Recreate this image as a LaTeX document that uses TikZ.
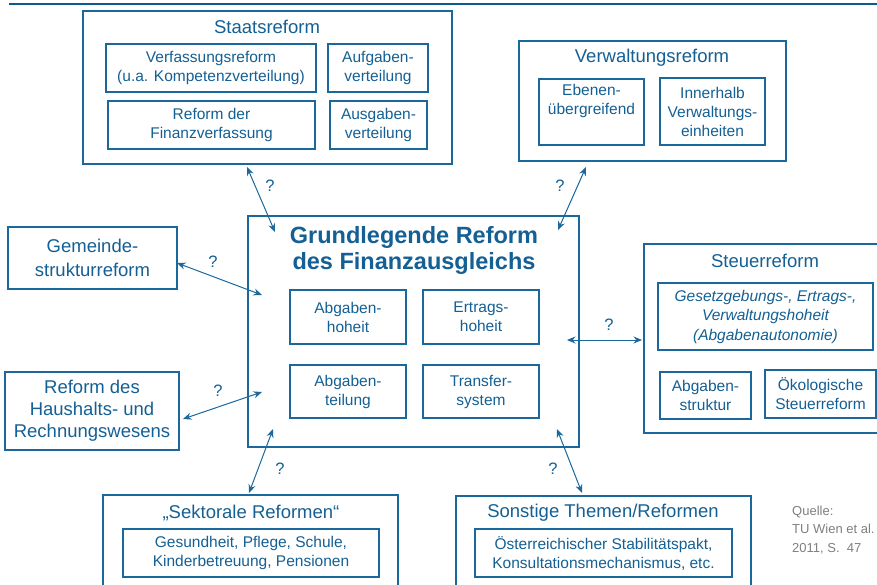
\documentclass[tikz,border=0pt]{standalone}
\usepackage{fontspec}
\setmainfont{Liberation Sans}
\usetikzlibrary{arrows.meta}
\definecolor{fablue}{RGB}{20,96,148}
\definecolor{linecol}{RGB}{26,104,156}
\definecolor{topline}{RGB}{8,92,142}
\definecolor{srcgray}{RGB}{128,128,128}
\tikzset{
  outerbox/.style={draw=linecol, line width=1.4pt, inner sep=0pt, fill=none},
  innerbox/.style={draw=linecol, line width=1.3pt, inner sep=0pt, align=center, text=fablue,
    font=\fontsize{15.5}{19}\selectfont},
  titletext/.style={text=fablue, align=center, inner sep=0pt, font=\fontsize{18.5}{22}\selectfont},
  qmark/.style={text=fablue, inner sep=0pt, font=\fontsize{16.5}{19}\selectfont},
  link/.style={draw=linecol, line width=1pt, {Stealth[length=8.5pt,width=7pt]}-{Stealth[length=8.5pt,width=7pt]}}
}
\begin{document}
\begin{tikzpicture}[x=1pt,y=-1pt]
\useasboundingbox (0,0) rectangle (877,585);
\fill[white] (0,0) rectangle (877,585);
% top rule
\coordinate (tl) at (9,4);
\coordinate (tr) at (877,4);
\draw[topline, line width=2.6pt] (tl) -- (tr);

% Staatsreform
\node[outerbox, minimum width=369pt, minimum height=153pt] (staats) at (267.5,87.5) {};
\node[titletext] (staatsT) at (267,27) {Staatsreform};
\node[innerbox, minimum width=210pt, minimum height=48pt] (verf) at (211,68) {Verfassungsreform\\(u.a. Kompetenzverteilung)};
\node[innerbox, minimum width=100pt, minimum height=48pt] (aufg) at (378,68) {Aufgaben-\\verteilung};
\node[innerbox, minimum width=207pt, minimum height=48pt] (reffin) at (211.5,125) {Reform der\\Finanzverfassung};
\node[innerbox, minimum width=97pt, minimum height=48pt] (ausg) at (378.5,125) {Ausgaben-\\verteilung};

% Verwaltungsreform
\node[outerbox, minimum width=267pt, minimum height=120pt] (verw) at (652.5,101) {};
\node[titletext] (verwT) at (652,58) {Verwaltungsreform};
\node[innerbox, minimum width=105pt, minimum height=66pt] (ebenen) at (591.5,112) {Ebenen-\\übergreifend\\\strut};
\node[innerbox, minimum width=105pt, minimum height=67pt] (innerh) at (712.5,111.5) {Innerhalb\\Verwaltungs-\\einheiten};

% Grundlegende Reform
\node[outerbox, minimum width=331pt, minimum height=231pt] (grund) at (413.5,331.5) {};
\node[text=fablue, align=center, inner sep=0pt, font=\fontsize{23.5}{26}\selectfont\bfseries] (grundT) at (414,250) {Grundlegende Reform\\des Finanzausgleichs};
\node[innerbox, minimum width=116pt, minimum height=54pt] (abgh) at (348,317) {Abgaben-\\hoheit};
\node[innerbox, minimum width=116pt, minimum height=54pt] (ertr) at (481,317) {Ertrags-\\hoheit};
\node[innerbox, minimum width=116pt, minimum height=53pt] (abgt) at (348,391.5) {Abgaben-\\teilung};
\node[innerbox, minimum width=116pt, minimum height=53pt] (trans) at (481,391.5) {Transfer-\\system};

% left boxes
\node[outerbox, minimum width=169pt, minimum height=62pt, align=center, text=fablue, font=\fontsize{18.5}{24}\selectfont] (gem) at (92.5,258) {Gemeinde-\\strukturreform};
\node[outerbox, minimum width=174pt, minimum height=78pt, align=center, text=fablue, font=\fontsize{18.5}{22}\selectfont] (haus) at (92,411) {Reform des\\Haushalts- und\\Rechnungswesens};

% Steuerreform
\node[outerbox, minimum width=246pt, minimum height=189pt] (steuer) at (767,338.5) {};
\node[titletext] (steuerT) at (765,261) {Steuerreform};
\node[innerbox, minimum width=215pt, minimum height=67pt, font=\fontsize{15.5}{19.5}\selectfont\itshape] (gesetz) at (765.5,316.5) {Gesetzgebungs-, Ertrags-,\\Verwaltungshoheit\\(Abgabenautonomie)};
\node[innerbox, minimum width=91pt, minimum height=47pt] (abgs) at (705.5,395.5) {Abgaben-\\struktur};
\node[innerbox, minimum width=111pt, minimum height=48pt] (oeko) at (820.5,394) {Ökologische\\Steuerreform};

% bottom boxes
\node[outerbox, minimum width=295pt, minimum height=105pt] (sekt) at (250.5,547.5) {};
\node[titletext] (sektT) at (251,513) {„Sektorale Reformen“};
\node[innerbox, minimum width=256pt, minimum height=48pt] (sektI) at (251,553) {Gesundheit, Pflege, Schule,\\Kinderbetreuung, Pensionen};
\node[outerbox, minimum width=295pt, minimum height=104pt] (sonst) at (603.5,548) {};
\node[titletext] (sonstT) at (603,513) {Sonstige Themen/Reformen};
\node[innerbox, minimum width=257pt, minimum height=48pt] (sonstI) at (603.5,553) {Österreichischer Stabilitätspakt,\\Konsultationsmechanismus, etc.};

% source
\node[anchor=west, align=left, text=srcgray, inner sep=0pt, font=\fontsize{13}{18.5}\selectfont] (quelle) at (792,530) {Quelle:\\TU Wien et al.\\2011, S.\ \ 47};

% connector end points
\coordinate (a1s) at (247,167); \coordinate (a1g) at (275,232);
\coordinate (a2s) at (586,167); \coordinate (a2g) at (558,230);
\coordinate (a3s) at (177,263); \coordinate (a3g) at (262,295);
\coordinate (a4s) at (183,419); \coordinate (a4g) at (262,392);
\coordinate (a5g) at (567,340); \coordinate (a5s) at (642,340);
\coordinate (a6g) at (273,429); \coordinate (a6s) at (249,493);
\coordinate (a7g) at (557,429); \coordinate (a7s) at (582,493);

\draw[link] (a1s) -- (a1g);
\draw[link] (a2s) -- (a2g);
\draw[link] (a3s) -- (a3g);
\draw[link] (a4s) -- (a4g);
\draw[link] (a5g) -- (a5s);
\draw[link] (a6g) -- (a6s);
\draw[link] (a7g) -- (a7s);

\node[qmark] (q1) at (270,186) {?};
\node[qmark] (q2) at (560,186) {?};
\node[qmark] (q3) at (213,262) {?};
\node[qmark] (q4) at (218,391) {?};
\node[qmark] (q5) at (609,325) {?};
\node[qmark] (q6) at (280,469) {?};
\node[qmark] (q7) at (553,469) {?};
\end{tikzpicture}
\end{document}
